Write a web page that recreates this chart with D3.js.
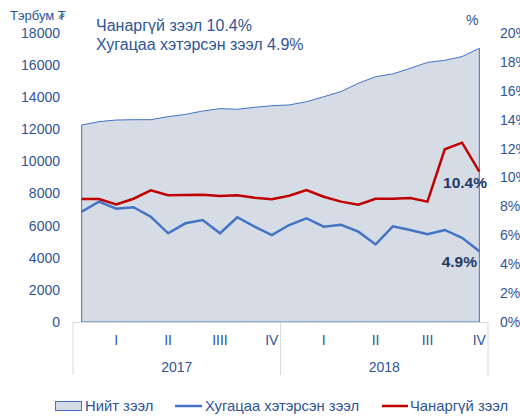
<!DOCTYPE html>
<html>
<head>
<meta charset="utf-8">
<script src="https://cdn.jsdelivr.net/npm/d3@7"></script>
<style>
  body { margin: 0; background: #fff; }
  svg { font-family: "Liberation Sans", Arial, sans-serif; }
</style>
</head>
<body>
<div id="chart"></div>
<script>
// Сар бүрийн өгөгдөл (2017-2018)
const months = d3.range(24);
const years = ["2017", "2018"];
const quarters = ["I", "II", "IIII", "IV", "I", "II", "III", "IV"];

// Нийт зээл, тэрбум ₮ (зүүн тэнхлэг)
const totalLoans = [12270, 12480, 12580, 12600, 12600, 12790, 12930, 13140, 13290, 13250, 13370, 13470,
                    13520, 13720, 14030, 14350, 14870, 15280, 15450, 15800, 16170, 16300, 16530, 17050];
// Хугацаа хэтэрсэн зээл, % (баруун тэнхлэг)
const overdue = [7.63, 8.33, 7.84, 7.94, 7.29, 6.14, 6.83, 7.06, 6.14, 7.25, 6.60, 6.02,
                 6.71, 7.18, 6.60, 6.73, 6.25, 5.37, 6.62, 6.37, 6.07, 6.37, 5.83, 4.9];
// Чанаргүй зээл, %
const nonPerforming = [8.51, 8.51, 8.14, 8.53, 9.11, 8.77, 8.79, 8.81, 8.72, 8.77, 8.60, 8.49,
                       8.74, 9.13, 8.67, 8.33, 8.12, 8.53, 8.53, 8.58, 8.33, 11.95, 12.41, 10.4];

const leftTicks = d3.range(0, 18001, 2000);
const rightTicks = d3.range(0, 21, 2);

const width = 520, height = 417;
const axisColor = "#2F5597";
const areaFill = "#D6DCE5";
const blue = "#4472C4";
const red = "#C00000";

const svg = d3.select("#chart").append("svg")
  .attr("width", width)
  .attr("height", height);

const x = d3.scaleBand().domain(months).range([73, 488]);
const cx = i => x(i) + x.bandwidth() / 2;
const yL = d3.scaleLinear().domain([0, 18000]).range([322, 33]);
const yR = d3.scaleLinear().domain([0, 20]).range([322, 33]);

// area
const area = d3.area().x((d, i) => cx(i)).y0(yL(0)).y1(d => yL(d));
svg.append("path")
  .datum(totalLoans)
  .attr("d", area)
  .attr("fill", areaFill)
  .attr("stroke", blue)
  .attr("stroke-width", 1);

// category axis lines
const grid = "#D9D9D9";
svg.append("line")
  .attr("x1", 73).attr("x2", 488)
  .attr("y1", yL(0) + 0.5).attr("y2", yL(0) + 0.5)
  .attr("stroke", grid);
[0, 12, 24].forEach(m => {
  const xx = m < 24 ? x(m) : x(23) + x.bandwidth();
  svg.append("line")
    .attr("x1", xx).attr("x2", xx)
    .attr("y1", yL(0)).attr("y2", 375)
    .attr("stroke", grid);
});

// lines
const line = d3.line().x((d, i) => cx(i)).y(d => yR(d));
svg.append("path").datum(overdue)
  .attr("d", line).attr("fill", "none")
  .attr("stroke", blue).attr("stroke-width", 2.5);
svg.append("path").datum(nonPerforming)
  .attr("d", line).attr("fill", "none")
  .attr("stroke", red).attr("stroke-width", 2.5);

// left ticks
svg.append("g").selectAll("text")
  .data(leftTicks).enter().append("text")
  .attr("x", 60).attr("y", d => yL(d)).attr("dy", "0.35em")
  .attr("text-anchor", "end")
  .attr("fill", axisColor).style("font-size", "14px")
  .text(d => d);

// right ticks
svg.append("g").selectAll("text")
  .data(rightTicks).enter().append("text")
  .attr("x", 500).attr("y", d => yR(d)).attr("dy", "0.35em")
  .attr("fill", axisColor).style("font-size", "14px")
  .text(d => d + "%");

// quarter labels (3-р сар бүр)
svg.append("g").selectAll("text")
  .data(quarters).enter().append("text")
  .attr("x", (d, i) => cx(i * 3 + 2)).attr("y", 345)
  .attr("text-anchor", "middle")
  .attr("fill", axisColor).style("font-size", "14px")
  .text(d => d);

// year labels
svg.append("g").selectAll("text")
  .data(years).enter().append("text")
  .attr("x", (d, i) => (x(i * 12) + x(i * 12 + 11) + x.bandwidth()) / 2).attr("y", 372)
  .attr("text-anchor", "middle")
  .attr("fill", axisColor).style("font-size", "14px")
  .text(d => d);

// units
svg.append("text").attr("x", 10).attr("y", 20)
  .attr("fill", axisColor).style("font-size", "13px").text("Тэрбум ₮");
svg.append("text").attr("x", 466).attr("y", 25)
  .attr("fill", axisColor).style("font-size", "14px").text("%");

// header notes
svg.append("text").attr("x", 96).attr("y", 31)
  .attr("fill", axisColor).style("font-size", "16px")
  .text("Чанаргүй зээл " + nonPerforming[23] + "%");
svg.append("text").attr("x", 96).attr("y", 50)
  .attr("fill", axisColor).style("font-size", "16px")
  .text("Хугацаа хэтэрсэн зээл " + overdue[23] + "%");

// end labels
const navy = "#1F3864";
svg.append("text").attr("x", 487).attr("y", 188)
  .attr("text-anchor", "end").attr("fill", navy)
  .style("font-size", "15.5px").style("font-weight", "bold")
  .text(nonPerforming[23] + "%");
svg.append("text").attr("x", 477).attr("y", 267)
  .attr("text-anchor", "end").attr("fill", navy)
  .style("font-size", "15.5px").style("font-weight", "bold")
  .text(overdue[23] + "%");

// legend
const lg = svg.append("g");
lg.append("rect").attr("x", 55.5).attr("y", 401.5).attr("width", 26).attr("height", 9)
  .attr("fill", areaFill).attr("stroke", blue).attr("stroke-width", 1);
lg.append("text").attr("x", 85).attr("y", 411)
  .attr("fill", axisColor).style("font-size", "14.8px").text("Нийт зээл");
lg.append("line").attr("x1", 175).attr("x2", 202).attr("y1", 406).attr("y2", 406)
  .attr("stroke", blue).attr("stroke-width", 2.5);
lg.append("text").attr("x", 205).attr("y", 411)
  .attr("fill", axisColor).style("font-size", "14.8px").text("Хугацаа хэтэрсэн зээл");
lg.append("line").attr("x1", 382).attr("x2", 408).attr("y1", 406).attr("y2", 406)
  .attr("stroke", red).attr("stroke-width", 2.5);
lg.append("text").attr("x", 410).attr("y", 411)
  .attr("fill", axisColor).style("font-size", "14.8px").text("Чанаргүй зээл");
</script>
</body>
</html>
